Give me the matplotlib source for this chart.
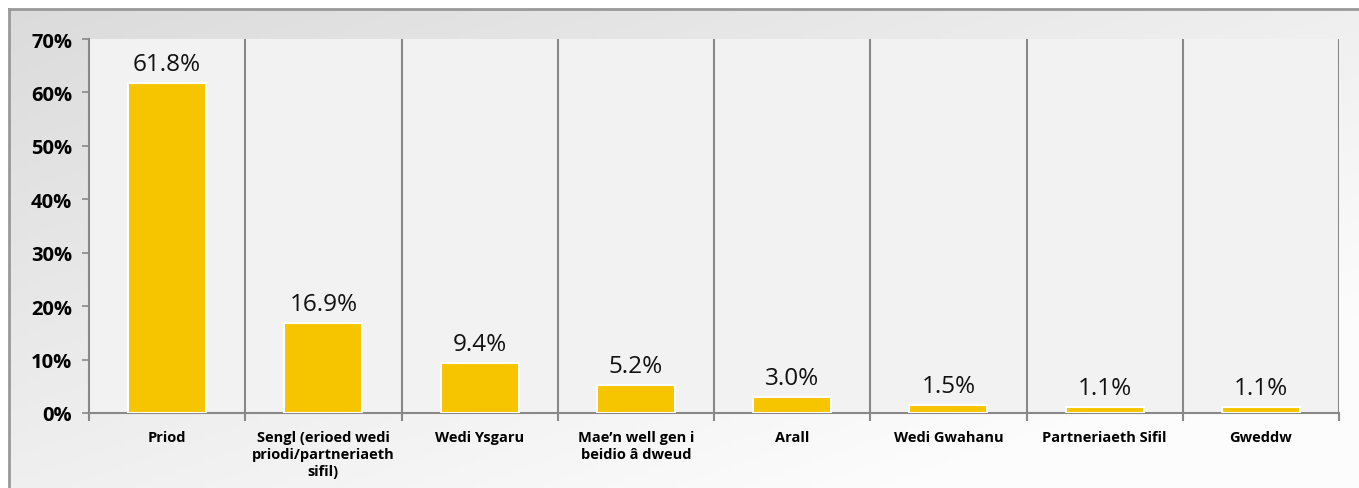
import matplotlib
matplotlib.use("Agg")
import matplotlib.pyplot as plt
import numpy as np
from matplotlib.ticker import FuncFormatter, FixedLocator

categories = ["Priod", "Sengl (erioed wedi\npriodi/partneriaeth\nsifil)", "Wedi Ysgaru",
              "Mae\u2019n well gen i\nbeidio \u00e2 dweud", "Arall", "Wedi Gwahanu",
              "Partneriaeth Sifil", "Gweddw"]
values = [61.8, 16.9, 9.4, 5.2, 3.0, 1.5, 1.1, 1.1]
yticks = [0, 10, 20, 30, 40, 50, 60, 70]

plt.rcParams['font.family'] = ['Open Sans', 'DejaVu Sans']

W, H = 1359, 489
fig = plt.figure(figsize=(W/100, H/100), dpi=100)
fig.patch.set_facecolor('white')

# background gradient frame
bg = fig.add_axes([9/W, 0, 1 - 9/W, 1 - 10/H])
bg.set_axis_off()
gx = np.linspace(0, 1, 200)
gy = np.linspace(0, 1, 100)
GX, GY = np.meshgrid(gx, gy)
t = np.clip(0.6*GX + 0.6*GY, 0, 1)
c0 = np.array([0.86, 0.86, 0.86])
c1 = np.array([0.99, 0.99, 0.99])
img = c0[None, None, :]*(1-t[..., None]) + c1[None, None, :]*t[..., None]
bg.imshow(img, aspect='auto', extent=[0, 1, 0, 1], origin='upper')
bg.set_xlim(0, 1); bg.set_ylim(0, 1)
bg.plot([0, 0], [0, 1], color='#999999', lw=2, transform=bg.transAxes, clip_on=False)
bg.plot([0, 1], [1, 1], color='#999999', lw=2, transform=bg.transAxes, clip_on=False)

ax = fig.add_axes([89/W, 1 - 414/H, (1339-89)/W, (414-40)/H])
ax.set_facecolor('#f2f2f2')
x = np.arange(len(categories))
ax.bar(x, values, width=0.5, color='#f6c500', edgecolor='white', linewidth=1.5, zorder=3)
ax.set_xlim(-0.5, len(categories)-0.5)
ax.set_ylim(0, 70)
ax.set_yticks(yticks)
ax.yaxis.set_major_formatter(FuncFormatter(lambda v, p: f"{int(v)}%"))
for lbl in ax.get_yticklabels():
    lbl.set_fontweight('bold')
ax.tick_params(axis='y', labelsize=14.5, length=5, width=1.2, color='#888888', pad=7)

ax.set_xticks(x)
ax.set_xticklabels(categories, fontsize=10.5, fontweight='bold', linespacing=1.3)
ax.tick_params(axis='x', length=0, pad=12)
ax.xaxis.set_minor_locator(FixedLocator(np.arange(-0.5, len(categories), 1.0)))
ax.tick_params(axis='x', which='minor', length=6, width=1.5, color='#888888')

for b in np.arange(0.5, len(categories), 1.0):
    ax.axvline(b, color='#888888', lw=1.5, zorder=1)

for s in ['top', 'right']:
    ax.spines[s].set_visible(False)
for s in ['left', 'bottom']:
    ax.spines[s].set_color('#888888')
    ax.spines[s].set_linewidth(1.5)

for xi, v in zip(x, values):
    ax.annotate(f"{v:.1f}%", (xi, v), xytext=(0, 5), textcoords='offset points',
                ha='center', va='bottom', fontsize=17.5, color='#111111', zorder=4)

fig.savefig('out.png', dpi=100)
